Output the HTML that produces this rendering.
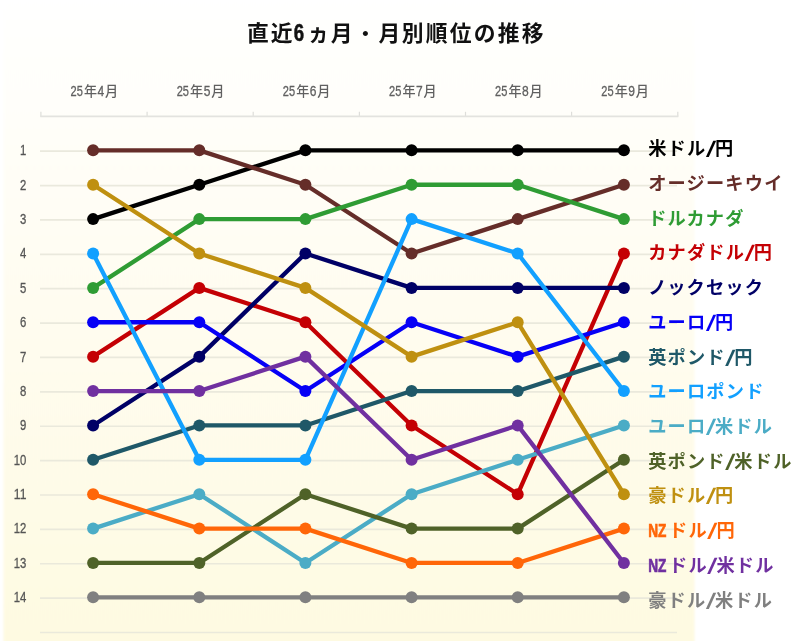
<!DOCTYPE html>
<html lang="ja">
<head>
<meta charset="utf-8">
<title>直近6ヵ月・月別順位の推移</title>
<style>
html,body{margin:0;padding:0;background:#fff;}
body{width:800px;height:641px;overflow:hidden;}
svg{display:block;}
text{font-family:"Liberation Sans","Noto Sans CJK JP",sans-serif;}
.ttl{font-size:21.8px;font-weight:bold;fill:#111;}
.mon{fill:#606060;}
.mon .dg{font-size:14.6px;stroke:#606060;stroke-width:0.3px;}
.mon .kj{font-size:13.1px;font-weight:500;}
.rk{font-size:15px;fill:#555;stroke:#555;stroke-width:0.3px;}
.lg{font-size:18.2px;font-weight:bold;}
</style>
</head>
<body>
<svg width="800" height="641" viewBox="0 0 800 641">
<defs>
<linearGradient id="bg" x1="0" y1="0" x2="0" y2="1">
<stop offset="0" stop-color="#ffffff"/>
<stop offset="1" stop-color="#fefae0"/>
</linearGradient>
<filter id="soft" x="-5%" y="-5%" width="110%" height="110%"><feGaussianBlur stdDeviation="0.8"/></filter>
</defs>
<rect x="0" y="0" width="800" height="641" fill="#fff"/>
<rect x="3.5" y="-10" width="691" height="670" fill="url(#bg)" filter="url(#soft)"/>
<text class="ttl" x="247.05" y="41" letter-spacing="2.2">直<tspan dx="-0.4">近</tspan><tspan dx="-0.8" font-size="23.6" letter-spacing="0" textLength="10.4" lengthAdjust="spacingAndGlyphs" stroke="#111" stroke-width="0.5">6</tspan><tspan dx="3.3">ヵ</tspan><tspan dx="-0.8">月</tspan><tspan dx="-0.3" font-weight="500">・</tspan><tspan>月</tspan><tspan dx="-0.8">別順位の推移</tspan></text>
<g stroke="#dededa" stroke-width="1.2" fill="none">
<path d="M40.9 111.8v4.6"/>
<path d="M147.1 111.8v4.6"/>
<path d="M253.2 111.8v4.6"/>
<path d="M359.4 111.8v4.6"/>
<path d="M465.5 111.8v4.6"/>
<path d="M571.6 111.8v4.6"/>
<path d="M677.8 111.8v4.6"/>
</g>
<path d="M40.2 116.4H678.4" stroke="#e3e3df" stroke-width="1.6" fill="none"/>
<g stroke="#e7e6d9" stroke-opacity="0.88" stroke-width="1.7" fill="none">
<path d="M40 632.5H677"/>
<path d="M40 151.15H677"/>
<path d="M40 185.53H677"/>
<path d="M40 219.92H677"/>
<path d="M40 254.31H677"/>
<path d="M40 288.69H677"/>
<path d="M40 323.07H677"/>
<path d="M40 357.46H677"/>
<path d="M40 391.84H677"/>
<path d="M40 426.23H677"/>
<path d="M40 460.61H677"/>
<path d="M40 495.00H677"/>
<path d="M40 529.38H677"/>
<path d="M40 563.77H677"/>
<path d="M40 598.15H677"/>
</g>
<text class="mon" y="96.2"><tspan class="dg" x="70.5" textLength="12.3" lengthAdjust="spacingAndGlyphs">25</tspan><tspan class="kj" x="83.9">年</tspan><tspan class="dg" x="97.5" textLength="6.7" lengthAdjust="spacingAndGlyphs">4</tspan><tspan class="kj" x="105.0">月</tspan></text>
<text class="mon" y="96.2"><tspan class="dg" x="176.7" textLength="12.3" lengthAdjust="spacingAndGlyphs">25</tspan><tspan class="kj" x="190.1">年</tspan><tspan class="dg" x="203.7" textLength="6.7" lengthAdjust="spacingAndGlyphs">5</tspan><tspan class="kj" x="211.2">月</tspan></text>
<text class="mon" y="96.2"><tspan class="dg" x="282.8" textLength="12.3" lengthAdjust="spacingAndGlyphs">25</tspan><tspan class="kj" x="296.2">年</tspan><tspan class="dg" x="309.8" textLength="6.7" lengthAdjust="spacingAndGlyphs">6</tspan><tspan class="kj" x="317.3">月</tspan></text>
<text class="mon" y="96.2"><tspan class="dg" x="389.0" textLength="12.3" lengthAdjust="spacingAndGlyphs">25</tspan><tspan class="kj" x="402.4">年</tspan><tspan class="dg" x="416.0" textLength="6.7" lengthAdjust="spacingAndGlyphs">7</tspan><tspan class="kj" x="423.5">月</tspan></text>
<text class="mon" y="96.2"><tspan class="dg" x="495.1" textLength="12.3" lengthAdjust="spacingAndGlyphs">25</tspan><tspan class="kj" x="508.5">年</tspan><tspan class="dg" x="522.1" textLength="6.7" lengthAdjust="spacingAndGlyphs">8</tspan><tspan class="kj" x="529.6">月</tspan></text>
<text class="mon" y="96.2"><tspan class="dg" x="601.3" textLength="12.3" lengthAdjust="spacingAndGlyphs">25</tspan><tspan class="kj" x="614.7">年</tspan><tspan class="dg" x="628.3" textLength="6.7" lengthAdjust="spacingAndGlyphs">9</tspan><tspan class="kj" x="635.8">月</tspan></text>
<text class="rk" x="20.1" y="155.2" textLength="6.3" lengthAdjust="spacingAndGlyphs">1</text>
<text class="rk" x="20.1" y="189.5" textLength="6.3" lengthAdjust="spacingAndGlyphs">2</text>
<text class="rk" x="20.1" y="223.9" textLength="6.3" lengthAdjust="spacingAndGlyphs">3</text>
<text class="rk" x="20.1" y="258.3" textLength="6.3" lengthAdjust="spacingAndGlyphs">4</text>
<text class="rk" x="20.1" y="292.7" textLength="6.3" lengthAdjust="spacingAndGlyphs">5</text>
<text class="rk" x="20.1" y="327.1" textLength="6.3" lengthAdjust="spacingAndGlyphs">6</text>
<text class="rk" x="20.1" y="361.5" textLength="6.3" lengthAdjust="spacingAndGlyphs">7</text>
<text class="rk" x="20.1" y="395.8" textLength="6.3" lengthAdjust="spacingAndGlyphs">8</text>
<text class="rk" x="20.1" y="430.2" textLength="6.3" lengthAdjust="spacingAndGlyphs">9</text>
<text class="rk" x="13.8" y="464.6" textLength="12.6" lengthAdjust="spacingAndGlyphs">10</text>
<text class="rk" x="13.8" y="499.0" textLength="12.6" lengthAdjust="spacingAndGlyphs">11</text>
<text class="rk" x="13.8" y="533.4" textLength="12.6" lengthAdjust="spacingAndGlyphs">12</text>
<text class="rk" x="13.8" y="567.8" textLength="12.6" lengthAdjust="spacingAndGlyphs">13</text>
<text class="rk" x="13.8" y="602.2" textLength="12.6" lengthAdjust="spacingAndGlyphs">14</text>
<g fill="#000000"><polyline points="93.1,219.12 199.3,184.73 305.4,150.35 411.6,150.35 517.7,150.35 623.9,150.35" fill="none" stroke="#000000" stroke-width="4.3" stroke-linejoin="round" stroke-linecap="round"/><circle cx="93.1" cy="219.12" r="6"/><circle cx="199.3" cy="184.73" r="6"/><circle cx="305.4" cy="150.35" r="6"/><circle cx="411.6" cy="150.35" r="6"/><circle cx="517.7" cy="150.35" r="6"/><circle cx="623.9" cy="150.35" r="6"/></g>
<g fill="#652d29"><polyline points="93.1,150.35 199.3,150.35 305.4,184.73 411.6,253.50 517.7,219.12 623.9,184.73" fill="none" stroke="#652d29" stroke-width="4.3" stroke-linejoin="round" stroke-linecap="round"/><circle cx="93.1" cy="150.35" r="6"/><circle cx="199.3" cy="150.35" r="6"/><circle cx="305.4" cy="184.73" r="6"/><circle cx="411.6" cy="253.50" r="6"/><circle cx="517.7" cy="219.12" r="6"/><circle cx="623.9" cy="184.73" r="6"/></g>
<g fill="#2f9c34"><polyline points="93.1,287.89 199.3,219.12 305.4,219.12 411.6,184.73 517.7,184.73 623.9,219.12" fill="none" stroke="#2f9c34" stroke-width="4.3" stroke-linejoin="round" stroke-linecap="round"/><circle cx="93.1" cy="287.89" r="6"/><circle cx="199.3" cy="219.12" r="6"/><circle cx="305.4" cy="219.12" r="6"/><circle cx="411.6" cy="184.73" r="6"/><circle cx="517.7" cy="184.73" r="6"/><circle cx="623.9" cy="219.12" r="6"/></g>
<g fill="#c40004"><polyline points="93.1,356.66 199.3,287.89 305.4,322.27 411.6,425.43 517.7,494.20 623.9,253.50" fill="none" stroke="#c40004" stroke-width="4.3" stroke-linejoin="round" stroke-linecap="round"/><circle cx="93.1" cy="356.66" r="6"/><circle cx="199.3" cy="287.89" r="6"/><circle cx="305.4" cy="322.27" r="6"/><circle cx="411.6" cy="425.43" r="6"/><circle cx="517.7" cy="494.20" r="6"/><circle cx="623.9" cy="253.50" r="6"/></g>
<g fill="#000066"><polyline points="93.1,425.43 199.3,356.66 305.4,253.50 411.6,287.89 517.7,287.89 623.9,287.89" fill="none" stroke="#000066" stroke-width="4.3" stroke-linejoin="round" stroke-linecap="round"/><circle cx="93.1" cy="425.43" r="6"/><circle cx="199.3" cy="356.66" r="6"/><circle cx="305.4" cy="253.50" r="6"/><circle cx="411.6" cy="287.89" r="6"/><circle cx="517.7" cy="287.89" r="6"/><circle cx="623.9" cy="287.89" r="6"/></g>
<g fill="#0600f6"><polyline points="93.1,322.27 199.3,322.27 305.4,391.04 411.6,322.27 517.7,356.66 623.9,322.27" fill="none" stroke="#0600f6" stroke-width="4.3" stroke-linejoin="round" stroke-linecap="round"/><circle cx="93.1" cy="322.27" r="6"/><circle cx="199.3" cy="322.27" r="6"/><circle cx="305.4" cy="391.04" r="6"/><circle cx="411.6" cy="322.27" r="6"/><circle cx="517.7" cy="356.66" r="6"/><circle cx="623.9" cy="322.27" r="6"/></g>
<g fill="#1f5868"><polyline points="93.1,459.81 199.3,425.43 305.4,425.43 411.6,391.04 517.7,391.04 623.9,356.66" fill="none" stroke="#1f5868" stroke-width="4.3" stroke-linejoin="round" stroke-linecap="round"/><circle cx="93.1" cy="459.81" r="6"/><circle cx="199.3" cy="425.43" r="6"/><circle cx="305.4" cy="425.43" r="6"/><circle cx="411.6" cy="391.04" r="6"/><circle cx="517.7" cy="391.04" r="6"/><circle cx="623.9" cy="356.66" r="6"/></g>
<g fill="#12a0ff"><polyline points="93.1,253.50 199.3,459.81 305.4,459.81 411.6,219.12 517.7,253.50 623.9,391.04" fill="none" stroke="#12a0ff" stroke-width="4.3" stroke-linejoin="round" stroke-linecap="round"/><circle cx="93.1" cy="253.50" r="6"/><circle cx="199.3" cy="459.81" r="6"/><circle cx="305.4" cy="459.81" r="6"/><circle cx="411.6" cy="219.12" r="6"/><circle cx="517.7" cy="253.50" r="6"/><circle cx="623.9" cy="391.04" r="6"/></g>
<g fill="#4bacc6"><polyline points="93.1,528.58 199.3,494.20 305.4,562.97 411.6,494.20 517.7,459.81 623.9,425.43" fill="none" stroke="#4bacc6" stroke-width="4.3" stroke-linejoin="round" stroke-linecap="round"/><circle cx="93.1" cy="528.58" r="6"/><circle cx="199.3" cy="494.20" r="6"/><circle cx="305.4" cy="562.97" r="6"/><circle cx="411.6" cy="494.20" r="6"/><circle cx="517.7" cy="459.81" r="6"/><circle cx="623.9" cy="425.43" r="6"/></g>
<g fill="#4f6228"><polyline points="93.1,562.97 199.3,562.97 305.4,494.20 411.6,528.58 517.7,528.58 623.9,459.81" fill="none" stroke="#4f6228" stroke-width="4.3" stroke-linejoin="round" stroke-linecap="round"/><circle cx="93.1" cy="562.97" r="6"/><circle cx="199.3" cy="562.97" r="6"/><circle cx="305.4" cy="494.20" r="6"/><circle cx="411.6" cy="528.58" r="6"/><circle cx="517.7" cy="528.58" r="6"/><circle cx="623.9" cy="459.81" r="6"/></g>
<g fill="#bf9010"><polyline points="93.1,184.73 199.3,253.50 305.4,287.89 411.6,356.66 517.7,322.27 623.9,494.20" fill="none" stroke="#bf9010" stroke-width="4.3" stroke-linejoin="round" stroke-linecap="round"/><circle cx="93.1" cy="184.73" r="6"/><circle cx="199.3" cy="253.50" r="6"/><circle cx="305.4" cy="287.89" r="6"/><circle cx="411.6" cy="356.66" r="6"/><circle cx="517.7" cy="322.27" r="6"/><circle cx="623.9" cy="494.20" r="6"/></g>
<g fill="#ff6608"><polyline points="93.1,494.20 199.3,528.58 305.4,528.58 411.6,562.97 517.7,562.97 623.9,528.58" fill="none" stroke="#ff6608" stroke-width="4.3" stroke-linejoin="round" stroke-linecap="round"/><circle cx="93.1" cy="494.20" r="6"/><circle cx="199.3" cy="528.58" r="6"/><circle cx="305.4" cy="528.58" r="6"/><circle cx="411.6" cy="562.97" r="6"/><circle cx="517.7" cy="562.97" r="6"/><circle cx="623.9" cy="528.58" r="6"/></g>
<g fill="#7030a0"><polyline points="93.1,391.04 199.3,391.04 305.4,356.66 411.6,459.81 517.7,425.43 623.9,562.97" fill="none" stroke="#7030a0" stroke-width="4.3" stroke-linejoin="round" stroke-linecap="round"/><circle cx="93.1" cy="391.04" r="6"/><circle cx="199.3" cy="391.04" r="6"/><circle cx="305.4" cy="356.66" r="6"/><circle cx="411.6" cy="459.81" r="6"/><circle cx="517.7" cy="425.43" r="6"/><circle cx="623.9" cy="562.97" r="6"/></g>
<g fill="#808080"><polyline points="93.1,597.36 199.3,597.36 305.4,597.36 411.6,597.36 517.7,597.36 623.9,597.36" fill="none" stroke="#808080" stroke-width="4.3" stroke-linejoin="round" stroke-linecap="round"/><circle cx="93.1" cy="597.36" r="6"/><circle cx="199.3" cy="597.36" r="6"/><circle cx="305.4" cy="597.36" r="6"/><circle cx="411.6" cy="597.36" r="6"/><circle cx="517.7" cy="597.36" r="6"/><circle cx="623.9" cy="597.36" r="6"/></g>
<text class="lg" x="648.2" y="155.1" fill="#000000" letter-spacing="1.2"><tspan dx="0.00" dy="0">米ドル</tspan><tspan dx="-0.90" dy="-1" font-family="Noto Sans CJK JP" font-size="16.4" textLength="11.5" lengthAdjust="spacingAndGlyphs" letter-spacing="0">/</tspan><tspan dx="-2.00" dy="1">円</tspan></text>
<text class="lg" x="648.2" y="189.8" fill="#652d29" letter-spacing="1.2"><tspan dx="0.00" dy="0">オージーキウイ</tspan></text>
<text class="lg" x="648.2" y="224.6" fill="#2f9c34" letter-spacing="1.2"><tspan dx="0.00" dy="0">ドルカナダ</tspan></text>
<text class="lg" x="648.2" y="259.3" fill="#c40004" letter-spacing="1.2"><tspan dx="0.00" dy="0">カナダドル</tspan><tspan dx="-0.90" dy="-1" font-family="Noto Sans CJK JP" font-size="16.4" textLength="11.5" lengthAdjust="spacingAndGlyphs" letter-spacing="0">/</tspan><tspan dx="-2.00" dy="1">円</tspan></text>
<text class="lg" x="648.2" y="294.0" fill="#000066" letter-spacing="1.2"><tspan dx="0.00" dy="0">ノックセック</tspan></text>
<text class="lg" x="648.2" y="328.8" fill="#0600f6" letter-spacing="1.2"><tspan dx="0.00" dy="0">ユーロ</tspan><tspan dx="-0.90" dy="-1" font-family="Noto Sans CJK JP" font-size="16.4" textLength="11.5" lengthAdjust="spacingAndGlyphs" letter-spacing="0">/</tspan><tspan dx="-2.00" dy="1">円</tspan></text>
<text class="lg" x="648.2" y="363.5" fill="#1f5868" letter-spacing="1.2"><tspan dx="0.00" dy="0">英ポンド</tspan><tspan dx="-0.90" dy="-1" font-family="Noto Sans CJK JP" font-size="16.4" textLength="11.5" lengthAdjust="spacingAndGlyphs" letter-spacing="0">/</tspan><tspan dx="-2.00" dy="1">円</tspan></text>
<text class="lg" x="648.2" y="398.2" fill="#12a0ff" letter-spacing="1.2"><tspan dx="0.00" dy="0">ユーロポンド</tspan></text>
<text class="lg" x="648.2" y="432.9" fill="#4bacc6" letter-spacing="1.2"><tspan dx="0.00" dy="0">ユーロ</tspan><tspan dx="-0.90" dy="-1" font-family="Noto Sans CJK JP" font-size="16.4" textLength="11.5" lengthAdjust="spacingAndGlyphs" letter-spacing="0">/</tspan><tspan dx="-2.00" dy="1">米ドル</tspan></text>
<text class="lg" x="648.2" y="467.7" fill="#4f6228" letter-spacing="1.2"><tspan dx="0.00" dy="0">英ポンド</tspan><tspan dx="-0.90" dy="-1" font-family="Noto Sans CJK JP" font-size="16.4" textLength="11.5" lengthAdjust="spacingAndGlyphs" letter-spacing="0">/</tspan><tspan dx="-2.00" dy="1">米ドル</tspan></text>
<text class="lg" x="648.2" y="502.4" fill="#bf9010" letter-spacing="1.2"><tspan dx="0.00" dy="0">豪ドル</tspan><tspan dx="-0.90" dy="-1" font-family="Noto Sans CJK JP" font-size="16.4" textLength="11.5" lengthAdjust="spacingAndGlyphs" letter-spacing="0">/</tspan><tspan dx="-2.00" dy="1">円</tspan></text>
<text class="lg" x="648.2" y="537.1" fill="#ff6608" letter-spacing="1.2"><tspan textLength="18.2" lengthAdjust="spacingAndGlyphs" letter-spacing="0" stroke="#ff6608" stroke-width="0.7">NZ</tspan><tspan dx="2.60" dy="0">ドル</tspan><tspan dx="-0.90" dy="-1" font-family="Noto Sans CJK JP" font-size="16.4" textLength="11.5" lengthAdjust="spacingAndGlyphs" letter-spacing="0">/</tspan><tspan dx="-2.00" dy="1">円</tspan></text>
<text class="lg" x="648.2" y="571.9" fill="#7030a0" letter-spacing="1.2"><tspan textLength="18.2" lengthAdjust="spacingAndGlyphs" letter-spacing="0" stroke="#7030a0" stroke-width="0.7">NZ</tspan><tspan dx="2.60" dy="0">ドル</tspan><tspan dx="-0.90" dy="-1" font-family="Noto Sans CJK JP" font-size="16.4" textLength="11.5" lengthAdjust="spacingAndGlyphs" letter-spacing="0">/</tspan><tspan dx="-2.00" dy="1">米ドル</tspan></text>
<text class="lg" x="648.2" y="606.6" fill="#808080" letter-spacing="1.2"><tspan dx="0.00" dy="0">豪ドル</tspan><tspan dx="-0.90" dy="-1" font-family="Noto Sans CJK JP" font-size="16.4" textLength="11.5" lengthAdjust="spacingAndGlyphs" letter-spacing="0">/</tspan><tspan dx="-2.00" dy="1">米ドル</tspan></text>
</svg>
</body>
</html>
